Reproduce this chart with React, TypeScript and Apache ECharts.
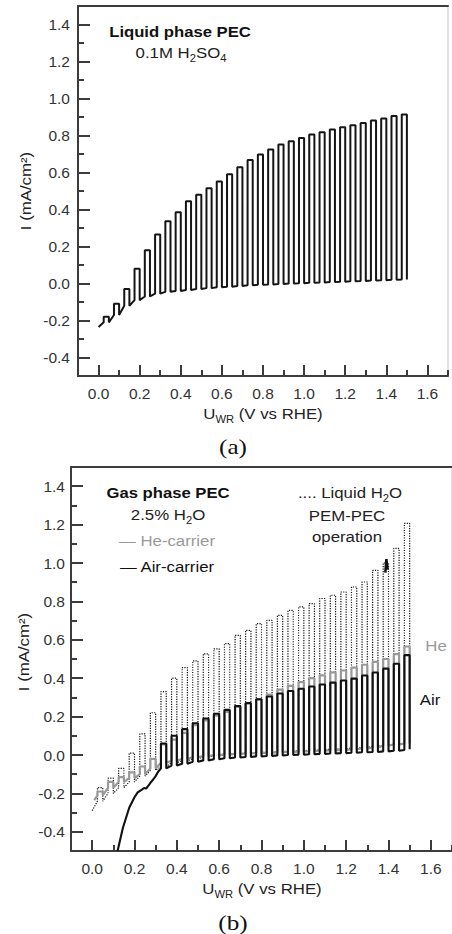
import React, { useEffect, useRef } from "react";
import * as echarts from "echarts";

// Light chopping: potential where light switches on / off (V vs RHE)
const chopOn = [0.025, 0.075, 0.125, 0.175, 0.225, 0.275, 0.325, 0.375, 0.425, 0.475, 0.525, 0.575, 0.625, 0.675, 0.725, 0.775, 0.825, 0.875, 0.925, 0.975, 1.025, 1.075, 1.125, 1.175, 1.225, 1.275, 1.325, 1.375, 1.425, 1.475];
const chopOff = [0.05, 0.1, 0.15, 0.2, 0.25, 0.3, 0.35, 0.4, 0.45, 0.5, 0.55, 0.6, 0.65, 0.7, 0.75, 0.8, 0.85, 0.9, 0.95, 1.0, 1.05, 1.1, 1.15, 1.2, 1.25, 1.3, 1.35, 1.4, 1.45, 1.5];

// Panel (a): liquid phase PEC, 0.1M H2SO4
const startA: number[] = [0.0, -0.235];
const darkA = [-0.21, -0.17, -0.12, -0.09, -0.07, -0.055, -0.045, -0.04, -0.035, -0.03, -0.025, -0.02, -0.017, -0.013, -0.01, -0.007, -0.005, -0.003, 0.0, 0.002, 0.004, 0.006, 0.008, 0.01, 0.012, 0.014, 0.016, 0.018, 0.02, 0.022];
const lightA = [-0.18, -0.11, -0.03, 0.08, 0.18, 0.265, 0.337, 0.385, 0.445, 0.48, 0.515, 0.552, 0.59, 0.628, 0.668, 0.697, 0.724, 0.751, 0.769, 0.787, 0.805, 0.818, 0.832, 0.845, 0.856, 0.868, 0.881, 0.892, 0.905, 0.914];
const endA = 0.022;

// Panel (b): liquid H2O PEM-PEC (dotted)
const startLiquid: number[] = [0.0, -0.29];
const darkLiquid = [-0.24, -0.2, -0.17, -0.14, -0.11, -0.08, -0.06, -0.04, -0.03, -0.02, -0.01, -0.005, 0.0, 0.005, 0.01, 0.012, 0.015, 0.018, 0.02, 0.022, 0.025, 0.028, 0.03, 0.033, 0.036, 0.04, 0.045, 0.05, 0.055, 0.06];
const lightLiquid = [-0.17, -0.12, -0.07, 0.01, 0.11, 0.22, 0.33, 0.4, 0.455, 0.49, 0.527, 0.553, 0.58, 0.623, 0.649, 0.684, 0.701, 0.727, 0.753, 0.771, 0.788, 0.815, 0.832, 0.849, 0.875, 0.901, 0.962, 1.0, 1.076, 1.206];
const endLiquid = 0.06;

// Panel (b): He-carrier (gray)
const startHe: number[] = [0.01, -0.235];
const darkHe = [-0.21, -0.17, -0.14, -0.12, -0.1, -0.07, -0.04, -0.03, -0.02, -0.012, -0.006, 0.0, 0.003, 0.006, 0.008, 0.01, 0.012, 0.014, 0.016, 0.018, 0.02, 0.022, 0.024, 0.026, 0.03, 0.034, 0.04, 0.048, 0.055, 0.06];
const lightHe = [-0.19, -0.14, -0.115, -0.09, -0.06, -0.02, 0.055, 0.08, 0.115, 0.155, 0.18, 0.205, 0.225, 0.25, 0.27, 0.29, 0.315, 0.34, 0.36, 0.38, 0.4, 0.415, 0.43, 0.44, 0.455, 0.47, 0.485, 0.5, 0.525, 0.565];
const endHe = 0.06;

// Panel (b): Air-carrier (black) — continuous part, then chopped from 0.325 V
const airRamp: number[][] = [[0.12, -0.5], [0.145, -0.38], [0.175, -0.275], [0.2, -0.22], [0.215, -0.195], [0.235, -0.18], [0.245, -0.172], [0.255, -0.175], [0.277, -0.143], [0.29, -0.125], [0.3, -0.11], [0.31, -0.09]];
const airChopFrom = 6;
const darkAir = [-0.07, -0.055, -0.045, -0.035, -0.028, -0.022, -0.017, -0.013, -0.01, -0.007, -0.005, -0.002, 0.0, 0.002, 0.004, 0.006, 0.008, 0.01, 0.012, 0.014, 0.016, 0.019, 0.022, 0.026];
const lightAir = [0.06, 0.1, 0.135, 0.165, 0.19, 0.215, 0.235, 0.255, 0.27, 0.29, 0.305, 0.32, 0.333, 0.345, 0.357, 0.367, 0.377, 0.388, 0.398, 0.414, 0.43, 0.45, 0.475, 0.52];
const endAir = 0.03;

// small black mark near 1.39 V
const airMark: number[][] = [[1.385, 0.95], [1.39, 1.02], [1.396, 0.965]];

const xMajor = [0, 0.2, 0.4, 0.6, 0.8, 1.0, 1.2, 1.4, 1.6];
const yMajor = [-0.4, -0.2, 0, 0.2, 0.4, 0.6, 0.8, 1.0, 1.2, 1.4];

function chopTrace(start: number[], on: number[], off: number[], dark: number[], light: number[], end: number): number[][] {
  const pts: number[][] = [start];
  for (let i = 0; i < on.length; i++) {
    pts.push([on[i], dark[i]]);
    pts.push([on[i], light[i]]);
    pts.push([off[i], light[i]]);
    pts.push([off[i], i + 1 < on.length ? dark[i] : end]);
  }
  return pts;
}

const AX = "#3c3c3c";
const FONT = "Liberation Sans, Arial, Helvetica, sans-serif";
const fmt = (v: number) => (Math.abs(v) < 1e-9 ? "0.0" : v.toFixed(1));

function xAxes(gridIndex: number) {
  const base = { type: "value", gridIndex, min: -0.1, max: 1.7, interval: 0.1, splitLine: { show: false } };
  return [
    {
      ...base,
      position: "bottom",
      axisLine: { show: true, onZero: false, lineStyle: { color: AX, width: 2 } },
      axisTick: { show: true, inside: true, length: 11, customValues: xMajor, lineStyle: { color: AX, width: 2 } },
      axisLabel: { show: true, customValues: xMajor, formatter: fmt, margin: 9, fontSize: 15.5, color: "#333", fontFamily: FONT },
    },
    {
      ...base,
      position: "bottom",
      axisLine: { show: false, onZero: false },
      axisTick: { show: true, inside: true, length: 6, lineStyle: { color: AX, width: 2 } },
      axisLabel: { show: false },
    },
    {
      ...base,
      position: "top",
      axisLine: { show: true, onZero: false, lineStyle: { color: AX, width: 2 } },
      axisTick: { show: false },
      axisLabel: { show: false },
    },
  ];
}

function yAxes(gridIndex: number, margin: number) {
  const base = { type: "value", gridIndex, min: -0.5, max: 1.5, interval: 0.1, splitLine: { show: false } };
  return [
    {
      ...base,
      position: "left",
      axisLine: { show: true, onZero: false, lineStyle: { color: AX, width: 2 } },
      axisTick: { show: true, inside: true, length: 12, customValues: yMajor, lineStyle: { color: AX, width: 2 } },
      axisLabel: { show: true, customValues: yMajor, formatter: fmt, margin, fontSize: 15.5, color: "#333", fontFamily: FONT },
    },
    {
      ...base,
      position: "left",
      axisLine: { show: false, onZero: false },
      axisTick: { show: true, inside: true, length: 6, lineStyle: { color: AX, width: 2 } },
      axisLabel: { show: false },
    },
    {
      ...base,
      position: "right",
      axisLine: { show: true, onZero: false, lineStyle: { color: "#d6d6d6", width: 1.5 } },
      axisTick: { show: false },
      axisLabel: { show: false },
    },
  ];
}

function lineSeries(data: number[][], axisIndex: number, color: string, width: number, type: any, z: number) {
  return {
    type: "line",
    xAxisIndex: axisIndex,
    yAxisIndex: axisIndex,
    data,
    showSymbol: false,
    symbol: "none",
    silent: true,
    z,
    lineStyle: { color, width, type },
  };
}

const subRich = {
  n: { fontSize: 15, lineHeight: 20, fontFamily: FONT, color: "#222" },
  s: { fontSize: 10, lineHeight: 10, verticalAlign: "bottom", fontFamily: FONT, color: "#222" },
};

function txt(x: number, y: number, text: string, opts: any = {}) {
  return {
    type: "text",
    x,
    y,
    scaleX: opts.scaleX ?? 1.12,
    rotation: opts.rotation ?? 0,
    style: {
      text,
      align: "center",
      verticalAlign: "middle",
      fontSize: opts.fontSize ?? 15,
      fontWeight: opts.fontWeight ?? "normal",
      fontFamily: opts.fontFamily ?? FONT,
      fill: opts.fill ?? "#222",
      rich: opts.rich,
    },
  };
}

export default function App() {
  const ref = useRef<HTMLDivElement>(null);
  useEffect(() => {
    if (!ref.current) return;
    const chart = echarts.init(ref.current, null, { renderer: "svg" });

    const traceA = chopTrace(startA, chopOn, chopOff, darkA, lightA, endA);
    const traceLiquid = chopTrace(startLiquid, chopOn, chopOff, darkLiquid, lightLiquid, endLiquid);
    const traceHe = chopTrace(startHe, chopOn, chopOff, darkHe, lightHe, endHe);
    const traceAir = airRamp.concat(
      chopTrace(airRamp[airRamp.length - 1], chopOn.slice(airChopFrom), chopOff.slice(airChopFrom), darkAir, lightAir, endAir).slice(1)
    );

    chart.setOption({
      animation: false,
      backgroundColor: "#ffffff",
      grid: [
        { left: 78, top: 6, width: 370, height: 370 },
        { left: 71, top: 467, width: 384, height: 384 },
      ],
      xAxis: [...xAxes(0), ...xAxes(1)],
      yAxis: [...yAxes(0, 8), ...yAxes(1, 6)],
      series: [
        lineSeries(traceA, 0, "#151515", 2, "solid", 3),
        lineSeries(traceLiquid, 3, "#111111", 1.2, [1.2, 1.3], 1),
        lineSeries(traceHe, 3, "#999999", 2.2, "solid", 2),
        lineSeries(traceAir, 3, "#111111", 2.1, "solid", 3),
        lineSeries(airMark, 3, "#111111", 2.5, "solid", 4),
      ],
      graphic: [
        // panel (a)
        txt(180, 32, "Liquid phase PEC", { fontWeight: "bold", fill: "#111", fontSize: 14.5, scaleX: 1.15 }),
        txt(181, 53, "{n|0.1M H}{s|2}{n|SO}{s|4}", { rich: subRich }),
        txt(26, 191, "I (mA/cm²)", { rotation: Math.PI / 2 }),
        txt(263, 414, "{n|U}{s|WR}{n| (V vs RHE)}", { rich: subRich }),
        txt(233, 447, "(a)", { fontFamily: "Liberation Serif, Times New Roman, serif", fontSize: 21, fill: "#111", scaleX: 1.2 }),
        // panel (b)
        txt(168, 493, "Gas phase PEC", { fontWeight: "bold", fill: "#111", fontSize: 14.5, scaleX: 1.15 }),
        txt(168, 515, "{n|2.5% H}{s|2}{n|O}", { rich: subRich }),
        txt(167, 541, "— He-carrier", { fill: "#9a9a9a" }),
        txt(167, 567, "— Air-carrier", { fill: "#111" }),
        txt(350, 493, "{n|.... Liquid H}{s|2}{n|O}", { rich: subRich }),
        txt(347, 516, "PEM-PEC", {}),
        txt(347, 537, "operation", {}),
        txt(436, 646, "He", { fill: "#9a9a9a" }),
        txt(430, 700, "Air", { fill: "#111" }),
        txt(24, 652, "I (mA/cm²)", { rotation: Math.PI / 2 }),
        txt(262, 889, "{n|U}{s|WR}{n| (V vs RHE)}", { rich: subRich }),
        txt(233, 923, "(b)", { fontFamily: "Liberation Serif, Times New Roman, serif", fontSize: 21, fill: "#111", scaleX: 1.2 }),
      ],
    });
    return () => chart.dispose();
  }, []);

  return <div ref={ref} style={{ position: "absolute", left: 0, top: 0, width: 452, height: 934, background: "#fff" }} />;
}
